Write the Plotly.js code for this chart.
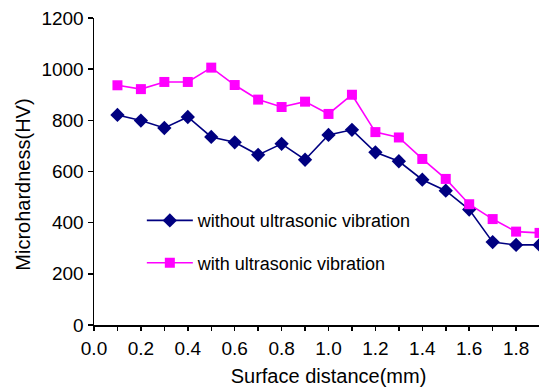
<!DOCTYPE html>
<html>
<head>
<meta charset="utf-8">
<script src="https://cdn.plot.ly/plotly-3.0.1.min.js"></script>
<style>html,body{margin:0;padding:0;background:#fff;overflow:hidden;}#chart{width:563px;height:387px;}</style>
</head>
<body>
<div id="chart"></div>
<script>
const distance = [0.1,0.2,0.3,0.4,0.5,0.6,0.7,0.8,0.9,1.0,1.1,1.2,1.3,1.4,1.5,1.6,1.7,1.8,1.9];
const withoutUV = [821,799,770,813,735,714,665,708,646,743,763,675,640,568,525,451,324,313,313];
const withUV = [937,922,950,950,1006,938,881,852,873,825,900,754,733,649,571,472,414,365,360];
const seriesNames = ["without ultrasonic vibration","with ultrasonic vibration"];
const xTickVals = [0,0.2,0.4,0.6,0.8,1.0,1.2,1.4,1.6,1.8,2.0];
const xTickText = ["0.0","0.2","0.4","0.6","0.8","1.0","1.2","1.4","1.6","1.8","2.0"];
const yTickVals = [0,200,400,600,800,1000,1200];
const xTitle = 'Surface distance(mm)';
const yTitle = 'Microhardness(HV)';

const font = "Liberation Sans, Arial, sans-serif";
const traces = [
  {x: distance, y: withoutUV, name: seriesNames[0], type: 'scatter', mode: 'lines+markers',
   line: {color: '#000080', width: 1.6}, marker: {symbol: 'diamond', size: 11, color: '#000080'},
   legendgroup: 'a'},
  {x: distance, y: withUV, name: seriesNames[1], type: 'scatter', mode: 'lines+markers',
   line: {color: '#FF00FF', width: 1.6}, marker: {symbol: 'square', size: 10, color: '#FF00FF'},
   legendgroup: 'b'}
];
const layout = {
  width: 563, height: 387,
  margin: {l: 94, r: 0, t: 18, b: 62},
  paper_bgcolor: '#fff', plot_bgcolor: '#fff',
  font: {family: font, size: 16, color: '#000'},
  showlegend: true,
  legend: {x: 0.102, y: 0.4, xanchor: 'left', yanchor: 'top', bgcolor: 'rgba(0,0,0,0)',
    font: {family: font, size: 18, color: '#000'}, traceorder: 'grouped', tracegroupgap: 16,
    itemwidth: 46},
  xaxis: {range: [0, 2.0], tickvals: xTickVals, ticktext: xTickText, showgrid: false, zeroline: false,
    showline: true, linecolor: '#000', linewidth: 1.5, ticks: 'outside', ticklen: 4, tickwidth: 1.5, tickcolor: '#000',
    minor: {dtick: 0.1, tick0: 0, ticks: 'outside', ticklen: 4, tickwidth: 1.5, tickcolor: '#000'},
    tickfont: {family: font, size: 19}, ticklabelstandoff: 2,
    title: {text: xTitle, font: {family: font, size: 20}, standoff: 10}, automargin: false},
  yaxis: {range: [0, 1200], tickvals: yTickVals, showgrid: false, zeroline: false,
    showline: true, linecolor: '#000', linewidth: 1.5, ticks: 'outside', ticklen: 5, tickwidth: 1.5, tickcolor: '#000',
    tickfont: {family: font, size: 19}, automargin: false},
  annotations: [{text: yTitle, xref: 'paper', yref: 'paper', x: -0.1514, y: 0.457,
    xanchor: 'center', yanchor: 'middle', textangle: -90, showarrow: false,
    font: {family: font, size: 20, color: '#000'}}]
};
Plotly.newPlot('chart', traces, layout, {displayModeBar: false, staticPlot: true});
</script>
</body>
</html>
